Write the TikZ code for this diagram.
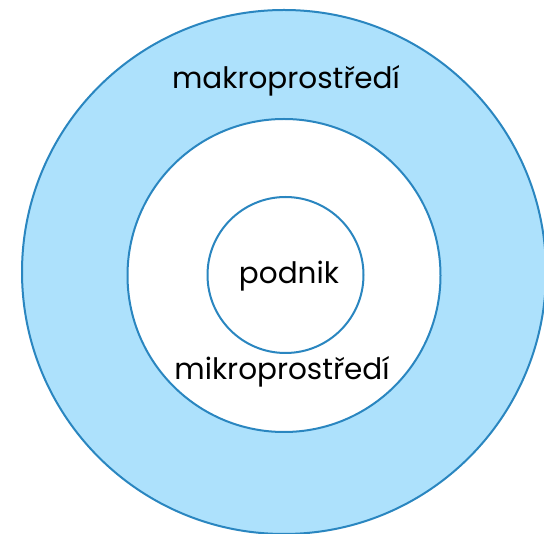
\documentclass[tikz,border=0pt]{standalone}
\usepackage{fontspec}
\setmainfont{Poppins}
\definecolor{ringfill}{HTML}{ADE1FC}
\definecolor{ringline}{HTML}{2A86C0}
\begin{document}
\begin{tikzpicture}[x=1pt,y=-1pt,
  ring/.style={circle,draw=ringline,line width=2pt,inner sep=0pt},
  lbl/.style={font=\fontsize{29.5}{34}\selectfont,text=black,inner sep=0pt}]
\useasboundingbox (0,0) rectangle (544,534);
\clip (0,0) rectangle (544,534);
\fill[white] (0,0) rectangle (544,534);
\node[ring,fill=ringfill,minimum size=524pt] (macro) at (284,272) {};
\node[ring,fill=white,minimum size=313pt] (micro) at (284,275.5) {};
\node[ring,fill=white,minimum size=156pt] (firm) at (285.5,275) {};
\node[lbl] (tmacro) at (286,81) {makroprostředí};
\node[lbl] (tfirm) at (289,276) {podnik};
\node[lbl] (tmicro) at (282,372) {mikroprostředí};
\end{tikzpicture}
\end{document}
